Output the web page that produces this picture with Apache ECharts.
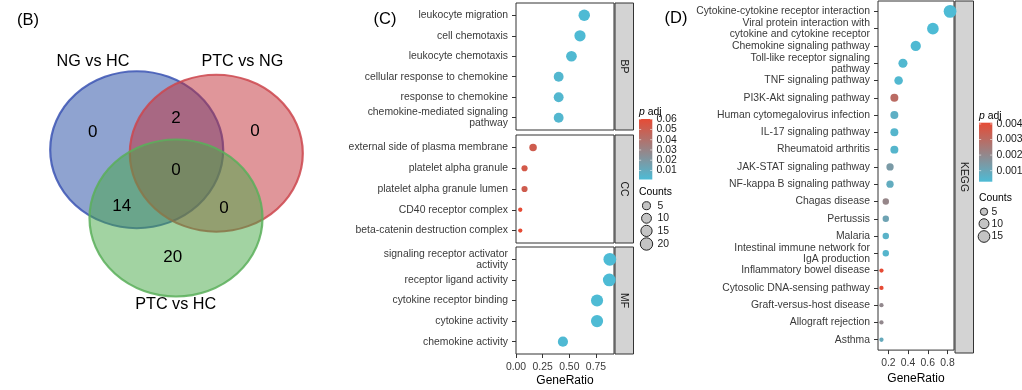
<!DOCTYPE html>
<html><head><meta charset="utf-8">
<script src="https://cdn.jsdelivr.net/npm/echarts@6/dist/echarts.min.js"></script>
<style>html,body{margin:0;padding:0;background:#fff}#c{width:1022px;height:390px}</style>
</head><body><div id="c"></div>
<script>
// ---------- DATA ----------
const vennSets = ['NG vs HC', 'PTC vs NG', 'PTC vs HC'];
// regions: NG only, PTCvsNG only, NG∩PTCvsNG, all three, NG∩PTCvsHC, PTCvsNG∩PTCvsHC, PTCvsHC only
const vennCounts = [0, 0, 2, 0, 14, 0, 20];

const bpTerms = ['leukocyte migration', 'cell chemotaxis', 'leukocyte chemotaxis',
  'cellular response to chemokine', 'response to chemokine', 'chemokine-mediated signaling\npathway'];
const bpRatio = [0.64, 0.60, 0.52, 0.40, 0.40, 0.40];
const bpCount = [16, 15, 13, 10, 10, 10];
const bpPadj = [0.0015, 0.0015, 0.0025, 0.0035, 0.0035, 0.0035];

const ccTerms = ['external side of plasma membrane', 'platelet alpha granule', 'platelet alpha granule lumen',
  'CD40 receptor complex', 'beta-catenin destruction complex'];
const ccRatio = [0.16, 0.08, 0.08, 0.04, 0.04];
const ccCount = [4, 2, 2, 1, 1];
const ccPadj = [0.051, 0.053, 0.051, 0.0602, 0.0602];

const mfTerms = ['signaling receptor activator\nactivity', 'receptor ligand activity', 'cytokine receptor binding',
  'cytokine activity', 'chemokine activity'];
const mfRatio = [0.88, 0.875, 0.76, 0.76, 0.44];
const mfCount = [22, 22, 19, 19, 11];
const mfPadj = [0.0012, 0.0012, 0.0014, 0.0014, 0.002];

const keggTerms = ['Cytokine-cytokine receptor interaction', 'Viral protein interaction with\ncytokine and cytokine receptor',
  'Chemokine signaling pathway', 'Toll-like receptor signaling\npathway', 'TNF signaling pathway',
  'PI3K-Akt signaling pathway', 'Human cytomegalovirus infection', 'IL-17 signaling pathway',
  'Rheumatoid arthritis', 'JAK-STAT signaling pathway', 'NF-kappa B signaling pathway', 'Chagas disease',
  'Pertussis', 'Malaria', 'Intestinal immune network for\nIgA production', 'Inflammatory bowel disease',
  'Cytosolic DNA-sensing pathway', 'Graft-versus-host disease', 'Allograft rejection', 'Asthma'];
const keggRatio = [0.826, 0.652, 0.478, 0.348, 0.304, 0.261, 0.261, 0.261, 0.261, 0.217, 0.217,
  0.174, 0.174, 0.174, 0.174, 0.130, 0.130, 0.130, 0.130, 0.130];
const keggCount = [19, 15, 11, 8, 7, 6, 6, 6, 6, 5, 5, 4, 4, 4, 4, 3, 3, 3, 3, 3];
const keggPadj = [0.00029, 0.0003, 0.00035, 0.0004, 0.0004, 0.003, 0.0007, 0.0005, 0.0005, 0.0014, 0.0008,
  0.0021, 0.0011, 0.0006, 0.0005, 0.00408, 0.00408, 0.002, 0.002, 0.0009];

const goPadjBreaks = [0.01, 0.02, 0.03, 0.04, 0.05, 0.06];
const keggPadjBreaks = [0.001, 0.002, 0.003, 0.004];
const goCountBreaks = [5, 10, 15, 20];
const keggCountBreaks = [5, 10, 15];
const goXTicks = [0, 0.25, 0.5, 0.75];
const keggXTicks = [0.2, 0.4, 0.6, 0.8];

// ---------- STYLE / LAYOUT ----------
const FF = '"Liberation Sans", Arial, sans-serif';
const LOW = '#4DBBD5', HIGH = '#E64B35';
const goPRange = [0.0012, 0.0602], keggPRange = [0.00029, 0.00408];
const goCRange = [1, 22], keggCRange = [3, 19];
function sz(c, r) { return 4.3 + (12.8 - 4.3) * Math.sqrt((c - r[0]) / (r[1] - r[0])); }

function rows(ratio, count, padj) { return ratio.map((x, i) => [x, i, count[i], padj[i]]); }

function yAx(gi, terms) {
  const idx = terms.map((_, i) => i);
  return {
    type: 'value', gridIndex: gi, inverse: true, min: -0.6, max: terms.length - 0.4,
    splitLine: { show: false }, axisLine: { show: false, onZero: false },
    axisTick: { show: true, length: 4, customValues: idx, lineStyle: { color: '#333' } },
    axisLabel: { customValues: idx, formatter: v => terms[Math.round(v)], fontSize: 10.4, color: '#3a3a3a',
      margin: 8, lineHeight: 11, fontFamily: FF }
  };
}
function xHidden(gi, min, max) {
  return { type: 'value', gridIndex: gi, min, max, splitLine: { show: false }, axisLine: { show: false, onZero: false },
    axisTick: { show: false }, axisLabel: { show: false } };
}
function xShown(gi, min, max, ticks, dec) {
  return {
    type: 'value', gridIndex: gi, min, max, position: 'bottom', splitLine: { show: false },
    axisLine: { show: false, onZero: false },
    axisTick: { show: true, length: 4, customValues: ticks, lineStyle: { color: '#333' } },
    axisLabel: { customValues: ticks, formatter: v => v.toFixed(dec), fontSize: 10.4, color: '#3a3a3a', margin: 8, fontFamily: FF },
    name: 'GeneRatio', nameLocation: 'middle', nameGap: 21,
    nameTextStyle: { fontSize: 12, color: '#000', fontFamily: FF }
  };
}
function scat(gi, data, cr) {
  return { type: 'scatter', xAxisIndex: gi, yAxisIndex: gi, data, symbol: 'circle',
    symbolSize: v => sz(v[2], cr), itemStyle: { opacity: 1 }, emphasis: { disabled: true } };
}
const gridBase = { show: true, borderColor: '#333', borderWidth: 1, backgroundColor: 'transparent', containLabel: false };

// ---------- GRAPHICS ----------
const G = [];
function txt(x, y, s, size, extra) {
  G.push(Object.assign({ type: 'text', x, y, silent: true,
    style: Object.assign({ text: s, fontSize: size, fontFamily: FF, fill: '#000', align: 'center', verticalAlign: 'middle' }, extra && extra.style || {}) },
    extra && extra.el || {}));
}
// panel letters
txt(28, 20, '(B)', 16.5); txt(385, 19, '(C)', 16.5); txt(676, 18, '(D)', 16.5);

// Venn
const vennShapes = [
  { cx: 136.7, cy: 149.7, fill: 'rgba(31,71,161,0.5)', stroke: 'rgba(60,85,180,0.85)' },
  { cx: 216.3, cy: 153.2, fill: 'rgba(193,45,53,0.5)', stroke: 'rgba(205,70,78,0.85)' },
  { cx: 176.0, cy: 218.0, fill: 'rgba(69,167,69,0.5)', stroke: 'rgba(90,175,90,0.85)' }
];
vennShapes.forEach(v => G.push({ type: 'circle', x: v.cx, y: v.cy, scaleY: 78.5 / 86.5, silent: true,
  shape: { cx: 0, cy: 0, r: 86.5 }, style: { fill: v.fill, stroke: v.stroke, lineWidth: 2.2 } }));
const vennLabelPos = [[93, 62], [242.3, 62], [175.7, 305]];
vennSets.forEach((s, i) => txt(vennLabelPos[i][0], vennLabelPos[i][1], s, 16.2));
const vennCountPos = [[92.7, 132.7], [255, 131.7], [176, 118.3], [176, 170.7], [121.7, 206.7], [224, 208.3], [172.7, 257.3]];
vennCounts.forEach((c, i) => txt(vennCountPos[i][0], vennCountPos[i][1], String(c), 17));

// strips
function strip(x, y, w, h, label) {
  G.push({ type: 'rect', silent: true, shape: { x, y, width: w, height: h }, style: { fill: '#d3d3d3', stroke: '#333', lineWidth: 1 } });
  txt(x + w / 2, y + h / 2, label, 10.4, { el: { rotation: -Math.PI / 2 }, style: { fill: '#1a1a1a' } });
}
strip(615, 3, 18.5, 127, 'BP'); strip(615, 135, 18.5, 108, 'CC'); strip(615, 247, 18.5, 107, 'MF');
strip(955, 1, 18.5, 352, 'KEGG');

// legends
function legend(lx, titleY, barTop, barBot, pr, pBreaks, cTitleY, cBreaks, cYs, cr, labX, cX, cLabX) {
  G.push({ type: 'text', x: lx, y: titleY, silent: true, style: { text: '{i|p} adj', fontSize: 10.4, fontFamily: FF, fill: '#000',
    align: 'left', verticalAlign: 'middle', rich: { i: { fontStyle: 'italic', fontSize: 10.4, fontFamily: FF } } } });
  G.push({ type: 'rect', silent: true, shape: { x: lx, y: barTop, width: 13.3, height: barBot - barTop },
    style: { fill: { type: 'linear', x: 0, y: 0, x2: 0, y2: 1, colorStops: [{ offset: 0, color: HIGH }, { offset: 1, color: LOW }] } } });
  pBreaks.forEach(b => {
    const y = barBot - (b - pr[0]) / (pr[1] - pr[0]) * (barBot - barTop);
    G.push({ type: 'line', silent: true, shape: { x1: lx, y1: y, x2: lx + 2.2, y2: y }, style: { stroke: 'rgba(255,255,255,0.7)', lineWidth: 0.8 } });
    G.push({ type: 'line', silent: true, shape: { x1: lx + 11.1, y1: y, x2: lx + 13.3, y2: y }, style: { stroke: 'rgba(255,255,255,0.7)', lineWidth: 0.8 } });
    txt(labX, y, String(b), 10.4, { style: { align: 'left', fill: '#1a1a1a' } });
  });
  txt(lx, cTitleY, 'Counts', 10.4, { style: { align: 'left' } });
  cBreaks.forEach((c, i) => {
    G.push({ type: 'circle', silent: true, shape: { cx: cX, cy: cYs[i], r: sz(c, cr) / 2 }, style: { fill: '#c4c4c4', stroke: '#222', lineWidth: 1 } });
    txt(cLabX, cYs[i], String(c), 10.4, { style: { align: 'left', fill: '#1a1a1a' } });
  });
}
legend(639, 112, 119, 179.5, goPRange, goPadjBreaks, 191.7, goCountBreaks, [205.7, 218.3, 230.9, 244], goCRange, 656.5, 646.5, 657.5);
legend(979, 116, 122.7, 181.7, keggPRange, keggPadjBreaks, 198.3, keggCountBreaks, [211.7, 223.7, 236.5], keggCRange, 996.5, 984, 991.5);

// ---------- CHART ----------
const chart = echarts.init(document.getElementById('c'), null, { renderer: 'canvas' });
chart.setOption({
  backgroundColor: '#fff',
  animation: false,
  grid: [
    Object.assign({ left: 516, top: 3, width: 98, height: 127 }, gridBase),
    Object.assign({ left: 516, top: 135, width: 98, height: 108 }, gridBase),
    Object.assign({ left: 516, top: 247, width: 98, height: 107 }, gridBase),
    Object.assign({ left: 878, top: 1, width: 76, height: 352 }, gridBase)
  ],
  xAxis: [xHidden(0, 0, 0.919), xHidden(1, 0, 0.919), xShown(2, 0, 0.919, goXTicks, 2), xShown(3, 0.095, 0.866, keggXTicks, 1)],
  yAxis: [yAx(0, bpTerms), yAx(1, ccTerms), yAx(2, mfTerms), yAx(3, keggTerms)],
  visualMap: [
    { type: 'continuous', show: false, seriesIndex: [0, 1, 2], dimension: 3, min: goPRange[0], max: goPRange[1], inRange: { color: [LOW, HIGH] } },
    { type: 'continuous', show: false, seriesIndex: [3], dimension: 3, min: keggPRange[0], max: keggPRange[1], inRange: { color: [LOW, HIGH] } }
  ],
  series: [
    scat(0, rows(bpRatio, bpCount, bpPadj), goCRange),
    scat(1, rows(ccRatio, ccCount, ccPadj), goCRange),
    scat(2, rows(mfRatio, mfCount, mfPadj), goCRange),
    scat(3, rows(keggRatio, keggCount, keggPadj), keggCRange)
  ],
  graphic: { elements: G }
});
</script></body></html>
